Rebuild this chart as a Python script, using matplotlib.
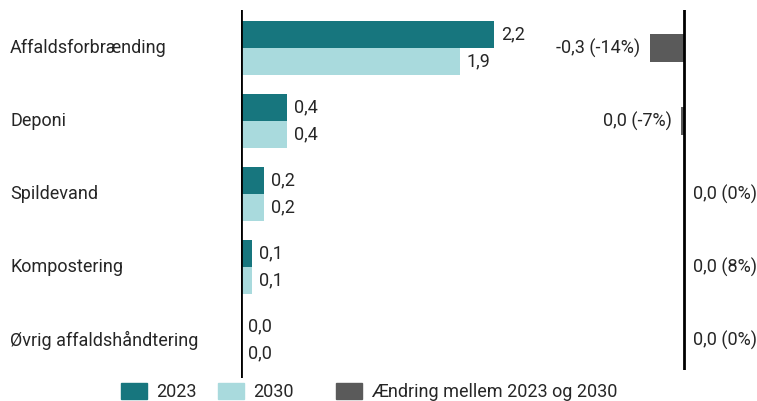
import matplotlib
matplotlib.use("Agg")
import matplotlib.pyplot as plt
from matplotlib.patches import Rectangle

plt.rcParams['font.family'] = ['Roboto', 'DejaVu Sans']

categories = ["Affaldsforbrænding", "Deponi", "Spildevand", "Kompostering",
              "Øvrig affaldshåndtering"]
values_2023 = [2.2, 0.4, 0.2, 0.1, 0.0]
values_2030 = [1.9, 0.4, 0.2, 0.1, 0.0]
change_values = [-0.3, -0.03, 0.0, 0.01, 0.0]
change_pct = ["-14%", "-7%", "0%", "8%", "0%"]
change_labels = ["-0,3", "0,0", "0,0", "0,0", "0,0"]

C2023 = "#17767e"
C2030 = "#a9dadd"
CCHG = "#5a5a5a"
TXT = "#262626"
FS = 13

W, H = 757, 401
fig = plt.figure(figsize=(W / 100, H / 100), dpi=100)

scale = 115.0          # pixels per unit
zero_left = 241
zero_right = 684
ax_top, ax_bot = 10, 378
row0, row_step = 48, 73
bar_h = 0.37

def fx(px):
    return px / W

def fy(py):
    return 1 - py / H

ylim = ((ax_bot - row0) / row_step, (ax_top - row0) / row_step)

# left panel: 2023 and 2030 values
l_left, l_right = zero_left, 560
ax = fig.add_axes([fx(l_left), fy(ax_bot), fx(l_right - l_left), (ax_bot - ax_top) / H])
ax.set_xlim(0, (l_right - l_left) / scale)
ax.set_ylim(*ylim)
ypos = list(range(len(categories)))
ax.barh([y - bar_h / 2 for y in ypos], values_2023, height=bar_h, color=C2023)
ax.barh([y + bar_h / 2 for y in ypos], values_2030, height=bar_h, color=C2030)
off = 7 / scale
for y, v in zip(ypos, values_2023):
    ax.text(v + off, y - bar_h / 2, f"{v:.1f}".replace(".", ","), va="center",
            ha="left", fontsize=FS, color=TXT)
for y, v in zip(ypos, values_2030):
    ax.text(v + off, y + bar_h / 2, f"{v:.1f}".replace(".", ","), va="center",
            ha="left", fontsize=FS, color=TXT)
for y, c in zip(ypos, categories):
    fig.text(fx(10), fy(row0 + row_step * y), c, ha="left", va="center",
             fontsize=FS, color=TXT)
ax.axvline(0, color="black", lw=2)
ax.axis("off")

# right panel: change between years
r_left, r_right = 560, W
ax2 = fig.add_axes([fx(r_left), fy(370), fx(r_right - r_left), (370 - ax_top) / H])
ax2.set_xlim(-(zero_right - r_left) / scale, (r_right - zero_right) / scale)
ax2.set_ylim((370 - row0) / row_step, ylim[1])
ax2.barh(ypos, change_values, height=bar_h, color=CCHG)
for y, v, lab, pct in zip(ypos, change_values, change_labels, change_pct):
    txt = f"{lab} ({pct})"
    if v < 0:
        ax2.text(v - 9 / scale, y, txt, ha="right", va="center", fontsize=FS, color=TXT)
    else:
        ax2.text(9 / scale, y, txt, ha="left", va="center",
                 fontsize=FS, color=TXT)
ax2.axvline(0, color="black", lw=2)
ax2.axis("off")

# legend
legend_items = [(121, C2023, "2023"), (218, C2030, "2030"),
                (336, CCHG, "Ændring mellem 2023 og 2030")]
for x0, col, lab in legend_items:
    fig.add_artist(Rectangle((fx(x0), fy(399)), fx(26), 16 / H, color=col,
                             transform=fig.transFigure))
    fig.text(fx(x0 + 35), fy(392), lab, ha="left", va="center", fontsize=FS,
             color=TXT)

fig.savefig("out.png", dpi=100, facecolor="white")
